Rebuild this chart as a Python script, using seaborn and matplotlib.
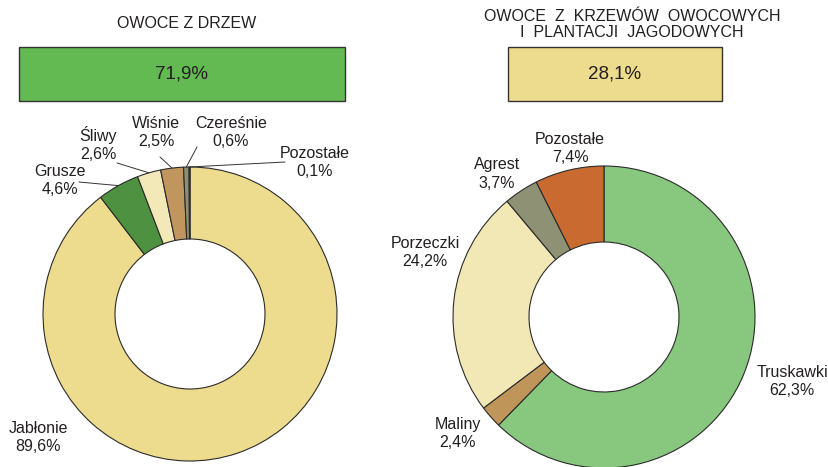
import matplotlib
matplotlib.use("Agg")
import matplotlib.pyplot as plt
from matplotlib.patches import Rectangle
import numpy as np
import seaborn as sns

sns.set_theme(style="white")
plt.rcParams['font.family'] = ['Liberation Sans', 'DejaVu Sans']

# ---- data ----
share_titles = ["OWOCE Z DRZEW", "OWOCE  Z  KRZEWÓW  OWOCOWYCH\nI  PLANTACJI  JAGODOWYCH"]
share_values = [71.9, 28.1]
share_colors = ["#63BA52", "#EEDC8E"]

tree_labels = ["Jabłonie", "Grusze", "Śliwy", "Wiśnie", "Czereśnie", "Pozostałe"]
tree_values = [89.6, 4.6, 2.6, 2.5, 0.6, 0.1]
tree_colors = ["#EEDC8E", "#4E9141", "#F2E8B8", "#C0965E", "#8F9073", "#4A4A40"]

bush_labels = ["Truskawki", "Maliny", "Porzeczki", "Agrest", "Pozostałe"]
bush_values = [62.3, 2.4, 24.2, 3.7, 7.4]
bush_colors = ["#88C77E", "#BF955A", "#F2E8B5", "#8E9173", "#C96A30"]

W, H = 829, 467
TXT = "#231F20"

def fmt(v):
    return f"{v:.1f}".replace(".", ",") + "%"

fig = plt.figure(figsize=(W / 100, H / 100), dpi=100)
ax = fig.add_axes([0, 0, 1, 1])

def Y(y):
    return H - y

# ---- header boxes ----
boxes = [(19, 47, 345, 101), (508, 47, 722, 101)]
title_pos = [(187, 23.5), (632, 24.5)]
for (x0, y0, x1, y1), t, v, c, (tx, ty) in zip(boxes, share_titles, share_values, share_colors, title_pos):
    ax.add_patch(Rectangle((x0, Y(y1)), x1 - x0, y1 - y0, facecolor=c,
                           edgecolor="#333333", lw=1.0, zorder=2))
    ax.text((x0 + x1) / 2, Y((y0 + y1) / 2), fmt(v), ha="center", va="center",
            fontsize=13.5, color=TXT, zorder=3)
    ax.text(tx, Y(ty), t, ha="center", va="center", fontsize=11.5, color=TXT,
            linespacing=1.1)

# ---- donuts ----
wp = dict(edgecolor="#2b2b2b", linewidth=0.8)
c1 = (190, Y(314)); r1 = 147
w1, _ = ax.pie(tree_values, colors=tree_colors, startangle=90, counterclock=False,
               radius=r1, center=c1, wedgeprops=dict(width=72, **wp))
c2 = (604, Y(317)); r2 = 151
w2, _ = ax.pie(bush_values, colors=bush_colors, startangle=90, counterclock=False,
               radius=r2, center=c2, wedgeprops=dict(width=76, **wp))

# labels for tree donut (text centre, leader-line start or None)
tree_text = {
    "Jabłonie": ((38, 438), None),
    "Grusze": ((60, 180), (79, 182)),
    "Śliwy": ((98, 144), (117, 163)),
    "Wiśnie": ((156, 133), (160, 157)),
    "Czereśnie": ((231, 133), (197, 147)),
    "Pozostałe": ((315, 162), (285, 162)),
}
for wdg, lab, val in zip(w1, tree_labels, tree_values):
    (tx, ty), start = tree_text[lab]
    ax.text(tx, Y(ty), f"{lab}\n{fmt(val)}", ha="center", va="center",
            fontsize=11.5, color=TXT, linespacing=1.25)
    if start is not None:
        mid = np.deg2rad((wdg.theta1 + wdg.theta2) / 2)
        ex = c1[0] + r1 * np.cos(mid)
        ey = c1[1] + r1 * np.sin(mid)
        ax.annotate("", xy=(ex, ey), xytext=(start[0], Y(start[1])),
                    arrowprops=dict(arrowstyle="-", lw=0.7, color="#333333",
                                    shrinkA=0, shrinkB=0))

bush_text = {
    "Truskawki": (792, 382),
    "Maliny": (458, 434),
    "Porzeczki": (425, 252),
    "Agrest": (497, 174),
    "Pozostałe": (570, 148),
}
for lab, val in zip(bush_labels, bush_values):
    tx, ty = bush_text[lab]
    ax.text(tx, Y(ty), f"{lab}\n{fmt(val)}", ha="center", va="center",
            fontsize=11.5, color=TXT, linespacing=1.25)

ax.set_xlim(0, W)
ax.set_ylim(0, H)
ax.set_aspect("equal")
ax.axis("off")
fig.savefig("out.png", dpi=100, facecolor="white")
